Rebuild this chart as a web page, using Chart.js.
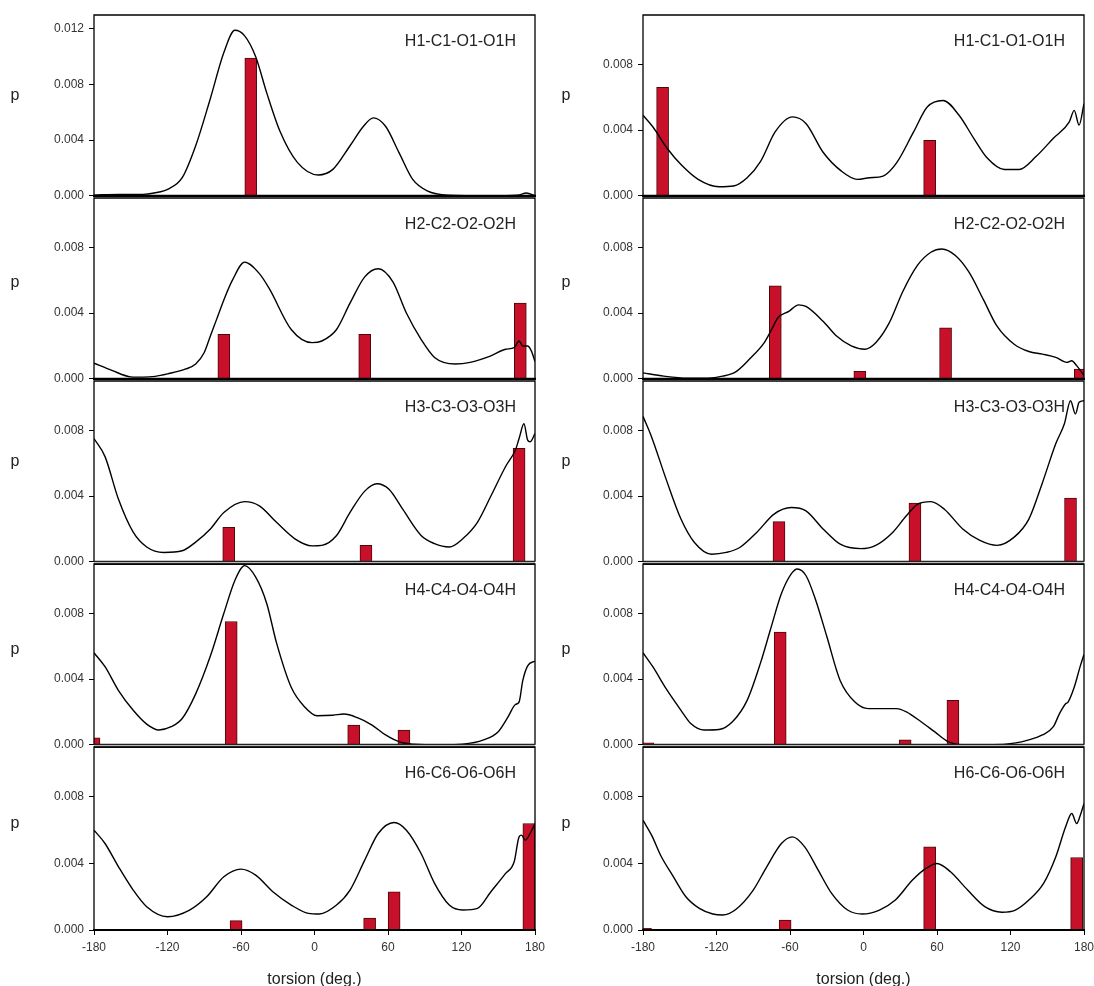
<!DOCTYPE html>
<html>
<head>
<meta charset="utf-8">
<script src="https://cdn.jsdelivr.net/npm/chart.js@4.4.1/dist/chart.umd.min.js"></script>
<style>
html,body{margin:0;padding:0;background:#fff;}
#wrap{position:relative;width:1094px;height:986px;overflow:hidden;background:#fff;}
#wrap canvas{position:absolute;}
</style>
</head>
<body>
<div id="wrap"></div>
<script>
// ---------------- DATA ----------------
const xTickValues = [-180, -120, -60, 0, 60, 120, 180];
const yTickStep = 0.004;
const xTitle = 'torsion (deg.)';
const yTitle = 'p';
const panelLabels = ['H1-C1-O1-O1H', 'H2-C2-O2-O2H', 'H3-C3-O3-O3H', 'H4-C4-O4-O4H', 'H6-C6-O6-O6H'];

// Left column: density curves [torsion, p]
const leftH1Curve = [[-180,0.00005],[-160,0.0001],[-140,0.0001],[-131,0.0002],[-119,0.0005],[-108,0.0013],[-97,0.0036],[-85,0.007],[-74,0.0103],[-65,0.0119],[-57,0.0115],[-48,0.0100],[-39,0.0074],[-28,0.0046],[-14,0.0024],[3,0.0015],[15,0.0019],[29,0.0036],[40,0.0050],[48,0.0056],[58,0.0050],[69,0.0031],[80,0.0012],[92,0.00036],[109,0.00005],[143,0],[166,0.00005],[173,0.0002],[180,0]];
const leftH2Curve = [[-180,0.00095],[-165,0.0005],[-150,0.00012],[-140,0.0001],[-130,0.00015],[-120,0.0003],[-105,0.0006],[-97,0.0009],[-90,0.0016],[-85,0.0026],[-80,0.0036],[-74,0.0048],[-67,0.0060],[-57,0.0071],[-45,0.0064],[-37,0.0055],[-19,0.0030],[-2,0.0022],[6,0.0023],[18,0.0030],[29,0.0046],[41,0.0062],[52,0.0067],[64,0.0059],[75,0.0040],[87,0.0024],[98,0.0013],[115,0.0009],[127,0.0010],[144,0.0014],[156,0.0018],[163,0.0019],[167,0.0023],[170,0.0020],[174,0.0020],[177,0.0017],[180,0.00105]];
const leftH3Curve = [[-180,0.0075],[-171,0.0064],[-160,0.0038],[-148,0.0018],[-137,0.0009],[-123,0.00057],[-108,0.00067],[-97,0.0012],[-85,0.0020],[-74,0.0030],[-57,0.00366],[-45,0.0034],[-31,0.0024],[-16,0.0014],[-2,0.00097],[6,0.001],[18,0.0016],[29,0.003],[41,0.0043],[51,0.00475],[61,0.0044],[72,0.0032],[87,0.0016],[98,0.0011],[110,0.0009],[121,0.0014],[133,0.0024],[144,0.004],[156,0.0058],[164,0.0068],[167,0.0075],[171,0.0084],[174,0.0074],[176,0.0073],[180,0.0078]];
const leftH4Curve = [[-180,0.0056],[-171,0.00475],[-160,0.0033],[-148,0.0021],[-137,0.00126],[-127,0.0009],[-117,0.0011],[-108,0.0016],[-97,0.0031],[-85,0.0054],[-74,0.0080],[-65,0.0100],[-57,0.0109],[-48,0.0102],[-39,0.0086],[-31,0.0062],[-19,0.0035],[-8,0.0023],[2,0.00177],[15,0.0018],[24,0.00187],[35,0.00165],[47,0.0012],[58,0.0006],[70,0.00016],[81,0.00004],[104,0],[121,0.00004],[138,0.0003],[150,0.0008],[158,0.0017],[164,0.00245],[167,0.0026],[170,0.0039],[174,0.0048],[180,0.0051]];
const leftH6Curve = [[-180,0.006],[-171,0.0052],[-160,0.0038],[-148,0.0024],[-137,0.0014],[-120,0.0008],[-102,0.0012],[-88,0.002],[-74,0.0032],[-60,0.00366],[-48,0.0033],[-34,0.0023],[-19,0.0015],[-5,0.001],[4,0.00096],[18,0.0015],[29,0.0024],[41,0.0042],[52,0.0058],[65,0.00646],[75,0.006],[87,0.0046],[98,0.0028],[110,0.0015],[121,0.0012],[133,0.0013],[144,0.0023],[156,0.0034],[163,0.0041],[167,0.0056],[169,0.0057],[172,0.0054],[176,0.0058],[180,0.0064]];

// Left column: bars [torsion, p]
const leftH1Bars = [[-52,0.0099]];
const leftH2Bars = [[-74,0.0027],[41,0.0027],[168,0.0046]];
const leftH3Bars = [[-70,0.0021],[42,0.001],[167,0.0069]];
const leftH4Bars = [[-180,0.00043],[-68,0.0075],[32,0.0012],[73,0.0009]];
const leftH6Bars = [[-64,0.00056],[45,0.00072],[65,0.0023],[175,0.0064]];

// Right column: density curves
const rightH1Curve = [[-180,0.0049],[-172,0.0042],[-160,0.00286],[-149,0.0019],[-135,0.001],[-118,0.00055],[-106,0.0006],[-95,0.0011],[-84,0.0021],[-72,0.0039],[-58,0.0048],[-47,0.0044],[-33,0.00265],[-18,0.0015],[-5,0.001],[5,0.0011],[16,0.0012],[27,0.002],[41,0.0039],[52,0.0054],[65,0.0058],[78,0.0049],[90,0.0035],[101,0.0023],[115,0.0016],[127,0.0016],[141,0.0024],[155,0.0035],[168,0.0045],[172,0.0052],[176,0.0043],[180,0.0056]];
const rightH2Curve = [[-180,0.00036],[-163,0.00016],[-144,0.00004],[-127,0.00004],[-115,0.00016],[-104,0.00044],[-93,0.0012],[-81,0.0022],[-75,0.003],[-70,0.0037],[-61,0.0041],[-53,0.0045],[-47,0.0044],[-33,0.0035],[-22,0.0026],[-10,0.002],[1,0.0018],[10,0.0022],[21,0.0034],[32,0.0053],[44,0.0069],[55,0.0077],[64,0.0079],[75,0.0075],[86,0.0065],[98,0.0048],[109,0.0032],[123,0.0021],[135,0.00166],[146,0.0015],[157,0.0013],[166,0.001],[170,0.0011],[174,0.0008],[180,0.0002]];
const rightH3Curve = [[-180,0.00885],[-173,0.0076],[-161,0.005],[-149,0.0026],[-138,0.00117],[-124,0.00046],[-112,0.00057],[-101,0.00087],[-87,0.0018],[-73,0.0029],[-59,0.0033],[-47,0.0031],[-33,0.002],[-19,0.00107],[-2,0.0008],[10,0.001],[24,0.0018],[35,0.0028],[44,0.0035],[55,0.00366],[66,0.0032],[81,0.002],[95,0.0013],[109,0.001],[123,0.0015],[135,0.0026],[146,0.0048],[157,0.0072],[164,0.0084],[169,0.0098],[173,0.009],[176,0.0097],[180,0.0098]];
const rightH4Curve = [[-180,0.0056],[-172,0.00475],[-161,0.0034],[-149,0.0021],[-141,0.0013],[-130,0.0009],[-118,0.00093],[-107,0.0014],[-95,0.0027],[-84,0.005],[-76,0.007],[-67,0.0092],[-59,0.0104],[-54,0.0107],[-47,0.0103],[-39,0.0088],[-30,0.0066],[-19,0.0039],[-7,0.0026],[4,0.0022],[15,0.0022],[27,0.0022],[35,0.002],[47,0.0014],[58,0.0008],[69,0.0002],[84,0],[106,0],[123,0.0001],[135,0.0003],[146,0.0006],[155,0.0011],[160,0.0019],[165,0.0025],[167,0.0026],[172,0.0035],[177,0.0048],[180,0.0055]];
const rightH6Curve = [[-180,0.0066],[-173,0.0057],[-165,0.0044],[-156,0.0033],[-145,0.002],[-134,0.0013],[-123,0.00096],[-115,0.0009],[-104,0.00125],[-90,0.0024],[-79,0.0038],[-67,0.0052],[-58,0.0056],[-48,0.005],[-37,0.0036],[-26,0.0022],[-13,0.0012],[-1,0.00096],[13,0.0012],[26,0.0018],[40,0.003],[51,0.0037],[60,0.004],[71,0.0035],[85,0.0024],[99,0.0014],[113,0.00107],[124,0.0012],[135,0.0018],[147,0.0028],[157,0.0044],[165,0.0062],[170,0.007],[174,0.0064],[177,0.0069],[180,0.0076]];

// Right column: bars
const rightH1Bars = [[-164,0.0066],[54,0.00337]];
const rightH2Bars = [[-72,0.00566],[-3,0.00046],[67,0.0031],[177,0.00059]];
const rightH3Bars = [[-69,0.00244],[42,0.00358],[169,0.00388]];
const rightH4Bars = [[-176,0.00012],[-68,0.00686],[34,0.0003],[73,0.0027]];
const rightH6Bars = [[-178,0.0001],[-64,0.0006],[54,0.005],[174,0.00436]];

// y-axis maxima per row (left, right)
const leftYMax = [0.013, 0.011, 0.011, 0.011, 0.011];
const rightYMax = [0.011, 0.011, 0.011, 0.011, 0.011];

// ---------------- LAYOUT ----------------
const leftCurves = [leftH1Curve, leftH2Curve, leftH3Curve, leftH4Curve, leftH6Curve];
const leftBars = [leftH1Bars, leftH2Bars, leftH3Bars, leftH4Bars, leftH6Bars];
const rightCurves = [rightH1Curve, rightH2Curve, rightH3Curve, rightH4Curve, rightH6Curve];
const rightBars = [rightH1Bars, rightH2Bars, rightH3Bars, rightH4Bars, rightH6Bars];

const PANEL_TOPS = [15, 198, 381, 564, 747];
const PANEL_H = 183;
const P_Y = [96, 283, 462, 650, 824];
const DOUBLE_BOTTOM = [false, false, true, true, false];
const COLS = [
  {canvasLeft: 0, width: 560, areaLeft: 94, areaRight: 535, pX: 15, curves: leftCurves, bars: leftBars, ymax: leftYMax},
  {canvasLeft: 552, width: 560, areaLeft: 643, areaRight: 1084, pX: 566, curves: rightCurves, bars: rightBars, ymax: rightYMax}
];
const FONT = "'Liberation Sans', Arial, sans-serif";
Chart.defaults.font.family = FONT;

const toPoints = (arr) => arr.map(([x, y]) => ({x: x, y: y}));

const framePlugin = {
  id: 'frame',
  afterDatasetsDraw(chart, args, opts) {
    const ctx = chart.ctx, a = chart.chartArea;
    ctx.save();
    ctx.strokeStyle = '#000';
    ctx.lineWidth = 1.3;
    ctx.beginPath();
    ctx.moveTo(a.left, a.bottom);
    ctx.lineTo(a.left, a.top);
    ctx.lineTo(a.right, a.top);
    ctx.lineTo(a.right, a.bottom);
    ctx.stroke();
    if (opts.doubleBottom) {
      ctx.fillStyle = '#b8b8b8';
      ctx.fillRect(a.left, a.bottom - 0.5, a.right - a.left, 3);
      ctx.lineWidth = 1.2;
      ctx.strokeStyle = '#222';
      ctx.beginPath();
      ctx.moveTo(a.left, a.bottom - 0.5);
      ctx.lineTo(a.right, a.bottom - 0.5);
      ctx.moveTo(a.left, a.bottom + 2.5);
      ctx.lineTo(a.right, a.bottom + 2.5);
      ctx.stroke();
    } else {
      ctx.lineWidth = 2.2;
      ctx.beginPath();
      ctx.moveTo(a.left - 1, a.bottom);
      ctx.lineTo(a.right + 1, a.bottom);
      ctx.stroke();
    }
    ctx.fillStyle = '#222';
    ctx.font = '16px ' + FONT;
    ctx.textAlign = 'right';
    ctx.textBaseline = 'middle';
    ctx.fillText(opts.label, a.right - 19, a.top + 27);
    ctx.textAlign = 'center';
    ctx.font = '16px ' + FONT;
    ctx.fillText(opts.pText, opts.pX, opts.pY);
    ctx.restore();
  }
};

const wrap = document.getElementById('wrap');

COLS.forEach((col) => {
  for (let r = 0; r < 5; r++) {
    const isBottom = r === 4;
    const topExtra = 14;
    const bottomExtra = isBottom ? 56 : 10;
    const cTop = PANEL_TOPS[r] - topExtra;
    const cH = PANEL_H + topExtra + bottomExtra;
    const canvas = document.createElement('canvas');
    canvas.width = col.width;
    canvas.height = cH;
    canvas.style.left = col.canvasLeft + 'px';
    canvas.style.top = cTop + 'px';
    canvas.style.width = col.width + 'px';
    canvas.style.height = cH + 'px';
    wrap.appendChild(canvas);

    const padding = {left: 0, right: 10, top: topExtra, bottom: bottomExtra};
    const want = {
      left: col.areaLeft - col.canvasLeft,
      right: col.areaRight - col.canvasLeft,
      top: topExtra,
      bottom: topExtra + PANEL_H
    };

    const xScale = {
      type: 'linear',
      min: -180,
      max: 180,
      offset: false,
      display: isBottom,
      afterBuildTicks: (s) => { s.ticks = xTickValues.map(v => ({value: v})); },
      grid: {drawOnChartArea: false, drawTicks: true, tickLength: 5, color: '#000', lineWidth: 1, offset: false},
      border: {display: false},
      ticks: {color: '#333', font: {size: 12}, padding: 5, maxRotation: 0, autoSkip: false},
      title: {display: isBottom, text: xTitle, color: '#222', font: {size: 16}, padding: {top: 11, bottom: 0}}
    };

    const chart = new Chart(canvas, {
      data: {
        datasets: [
          {
            type: 'line',
            data: toPoints(col.curves[r]),
            borderColor: '#000',
            borderWidth: 1.4,
            pointRadius: 0,
            fill: false,
            tension: 0.4,
            cubicInterpolationMode: 'monotone',
            order: 0
          },
          {
            type: 'bar',
            data: toPoints(col.bars[r]),
            backgroundColor: '#C8102A',
            borderColor: '#4a0808',
            borderWidth: 1,
            barThickness: 12,
            order: 1
          }
        ]
      },
      options: {
        responsive: false,
        animation: false,
        devicePixelRatio: 1,
        layout: {padding: padding},
        plugins: {
          legend: {display: false},
          tooltip: {enabled: false},
          frame: {label: panelLabels[r], pText: yTitle, pX: col.pX - col.canvasLeft, pY: P_Y[r] - cTop, doubleBottom: DOUBLE_BOTTOM[r]}
        },
        scales: {
          x: xScale,
          y: {
            type: 'linear',
            min: 0,
            max: col.ymax[r],
            grid: {drawOnChartArea: false, drawTicks: true, tickLength: 5, color: '#000', lineWidth: 1},
            border: {display: false},
            ticks: {
              stepSize: yTickStep,
              includeBounds: false,
              color: '#333',
              font: {size: 12},
              padding: 5,
              callback: (v) => Number(v).toFixed(3)
            }
          }
        }
      },
      plugins: [framePlugin]
    });

    // align the plot area on the intended pixel box
    for (let k = 0; k < 3; k++) {
      const a = chart.chartArea;
      padding.left += want.left - a.left;
      padding.right += a.right - want.right;
      padding.top += want.top - a.top;
      padding.bottom += a.bottom - want.bottom;
      chart.update('none');
    }
  }
});
</script>
</body>
</html>
